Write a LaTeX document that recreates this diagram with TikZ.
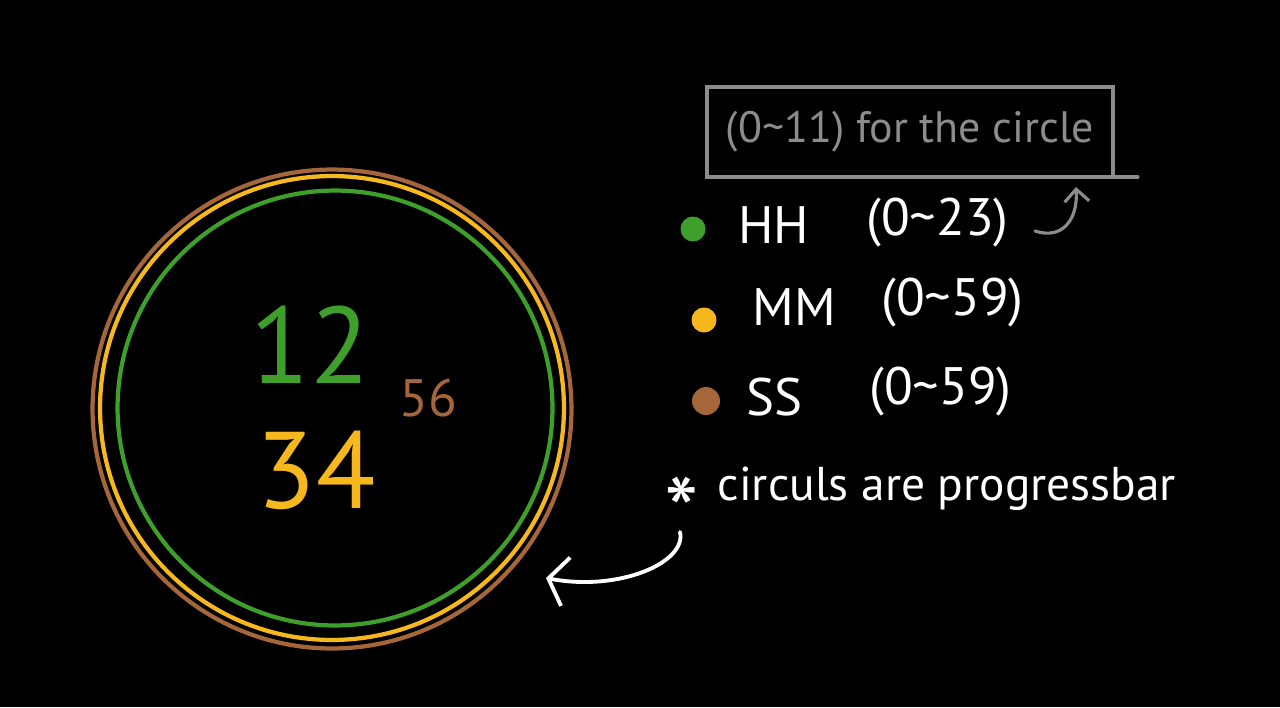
\documentclass[tikz,border=0pt]{standalone}
\usepackage{fontspec}
\setmainfont{PT Sans}
\usetikzlibrary{arrows.meta,calc}
\definecolor{hgreen}{HTML}{3F9F2B}
\definecolor{hyellow}{HTML}{F6B81C}
\definecolor{hbrown}{HTML}{A5663A}
\definecolor{hgray}{HTML}{8C8C8C}
\tikzset{
  ring/.style={line width=2.4pt},
  dotmark/.style={circle, inner sep=0pt, minimum size=0.5cm},
  legendtxt/.style={text=white, anchor=west, inner sep=0pt, font=\fontsize{30}{34}\selectfont},
  notetxt/.style={text=white, anchor=base west, inner sep=0pt, font=\fontsize{27}{32}\selectfont},
  bignum/.style={inner sep=0pt, font=\fontsize{62}{66}\selectfont},
  handarrow/.style={line width=2.2pt, line cap=round},
}
\begin{document}
\begin{tikzpicture}[x=0.02cm,y=-0.02cm]
\fill[black] (0,0) rectangle (1280,707);
\useasboundingbox (0,0) rectangle (1280,707);
% rings
\draw[ring, hbrown] (332,409) circle[radius=4.79cm];
\draw[ring, hyellow] (332,408) circle[radius=4.64cm];
\draw[ring, hgreen] (335,408) circle[radius=4.35cm];
\coordinate (ringhit) at (546,578);
% numbers
\node[bignum, text=hgreen] (hh) at (310,345) {12};
\node[bignum, text=hyellow] (mm) at (316,470) {34};
\node[inner sep=0pt, text=hbrown, font=\fontsize{30}{34}\selectfont] (ss) at (428,398) {56};
% box note
\node[draw=hgray, line width=1.8pt, minimum width=8.12cm, minimum height=1.8cm, text=hgray,
      inner sep=0pt, outer sep=0pt, font=\fontsize{25}{28}\selectfont] (boxnote) at (910,132) {(0\textasciitilde11) for the circle};
\coordinate (boxtail) at ($(boxnote.south east)+(25,0)$);
\draw[hgray, line width=1.8pt, line cap=round] (boxnote.south east) -- (boxtail);
% legend
\node[dotmark, fill=hgreen] (dotH) at (693,229) {};
\node[dotmark, fill=hyellow] (dotM) at (704,320) {};
\node[dotmark, fill=hbrown, minimum size=0.56cm] (dotS) at (706,401) {};
\node[legendtxt] (labH) at (738,225) {HH};
\node[legendtxt] (rngH) at (866,223) {(0\textasciitilde 23)};
\node[legendtxt] (labM) at (752,307) {MM};
\node[legendtxt] (rngM) at (881,303) {(0\textasciitilde 59)};
\node[legendtxt] (labS) at (746,397) {SS};
\node[legendtxt] (rngS) at (869,392) {(0\textasciitilde 59)};
% gray arrow
\coordinate (grayend) at (1076,187);
\draw[handarrow, hgray, line width=1.8pt, -{Straight Barb[length=7pt,width=14pt]}]
  (rngH.east) ++(26,8) .. controls (1062,240) and (1078,220) .. (grayend);
% note
\node[notetxt] (note) at (664,500) {\raisebox{-1.0em}{\fontsize{56}{56}\selectfont *}\hspace{0.4em}circuls are progressbar};
\coordinate (arrowstart) at (680,532);
\draw[handarrow, white, -{Straight Barb[length=10pt,width=28pt]}]
  (arrowstart) .. controls (687,562) and (620,592) .. (ringhit);
\end{tikzpicture}
\end{document}
